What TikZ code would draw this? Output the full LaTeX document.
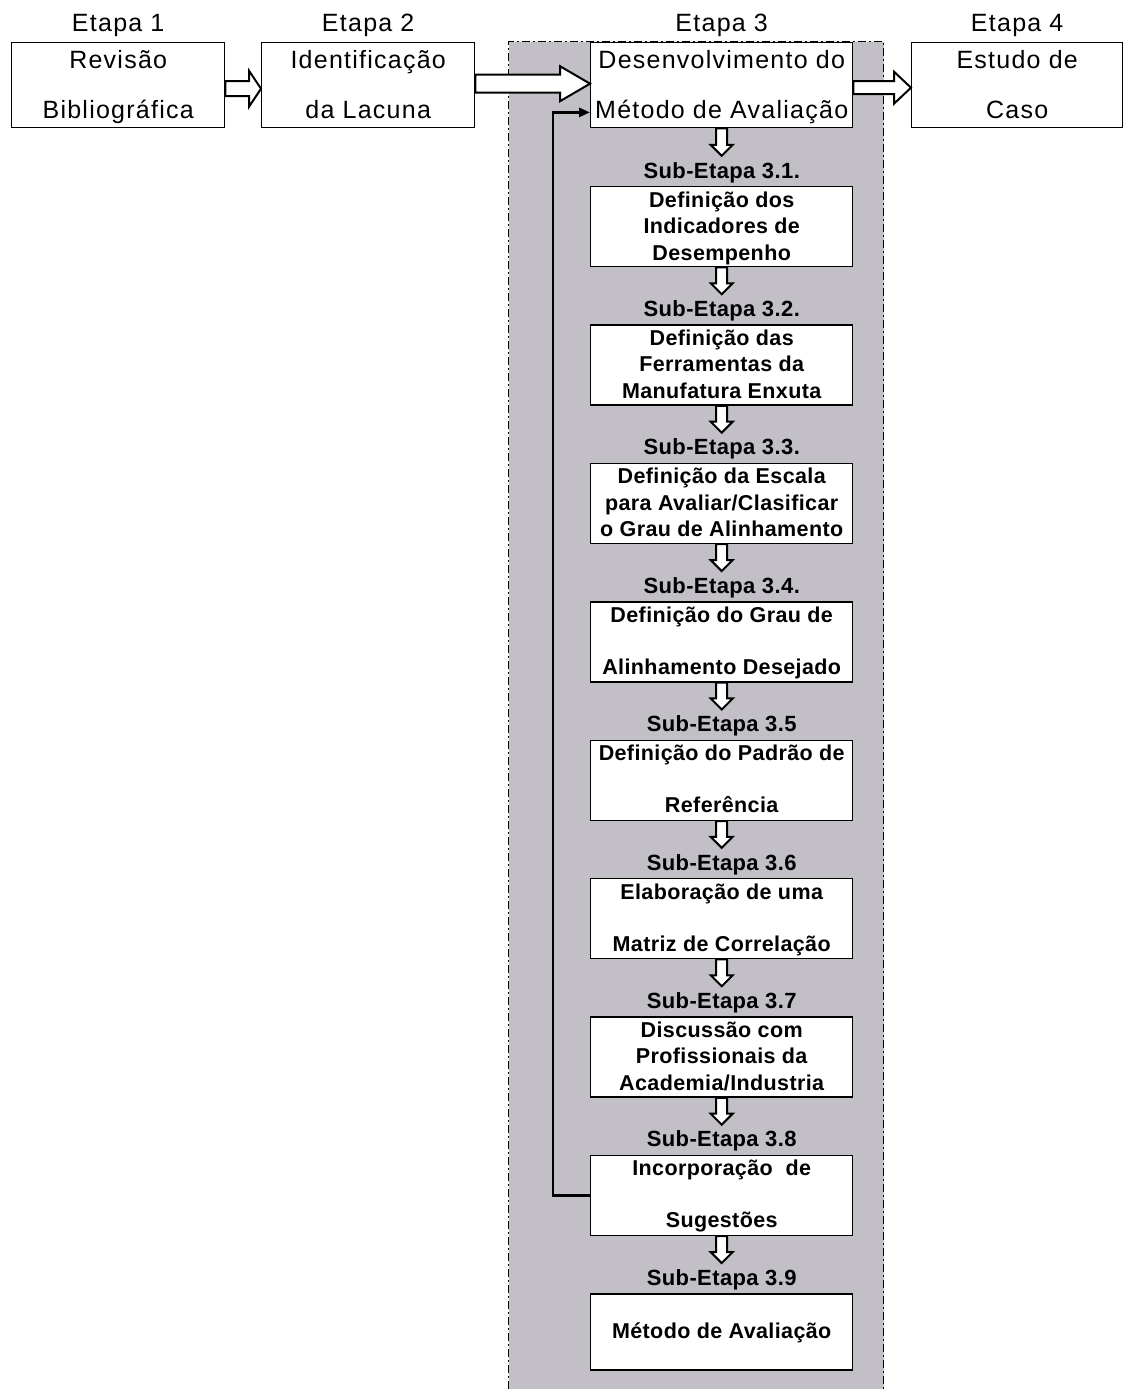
\documentclass[tikz,border=0pt]{standalone}
\usepackage{fontspec}
\setmainfont{Liberation Sans}
\newfontfamily\topfont[LetterSpace=5]{Liberation Sans}
\newfontfamily\subfont[LetterSpace=1.8]{Liberation Sans}
\usetikzlibrary{calc,arrows.meta}
\definecolor{panelgray}{RGB}{194,192,198}
\tikzset{
 box/.style={draw=black, line width=1.4pt, fill=white, anchor=north west, inner sep=0pt},
 toptext/.style={anchor=base, inner sep=0pt, font=\topfont\fontsize{25}{30}\selectfont},
 subtext/.style={anchor=base, inner sep=0pt, font=\subfont\fontsize{21.5}{26}\selectfont\bfseries},
 sublabel/.style={anchor=base, inner sep=2pt, font=\subfont\fontsize{22}{26}\selectfont\bfseries},
 blockarr/.style={draw=black, line width=2pt, fill=white, line join=miter},
 fb/.style={draw=black, line width=2.8pt, -{Triangle[length=11pt,width=9pt]}},
 panelborder/.style={draw=black, line width=1pt, dash pattern=on 8pt off 3pt on 2pt off 3pt}
}
\newcommand{\hblock}[6]{%
 \draw[blockarr] let \p1=(#1.east), \p2=(#2.west) in
 (\x1,\y1+#3+#4) -- (\x2-#6,\y1+#3+#4) -- (\x2-#6,\y1+#3+#5) -- (\x2,\y1+#3)
 -- (\x2-#6,\y1+#3-#5) -- (\x2-#6,\y1+#3-#4) -- (\x1,\y1+#3-#4) -- cycle;}
\newcommand{\vblock}[2]{%
 \draw[blockarr] let \p1=(#1.south), \p2=($(#2.north)+(0,-4)$) in
 (\x1-5.5pt,\y1) -- (\x1-5.5pt,\y2+11pt) -- (\x1-11pt,\y2+11pt) -- (\x1,\y2)
 -- (\x1+11pt,\y2+11pt) -- (\x1+5.5pt,\y2+11pt) -- (\x1+5.5pt,\y1) -- cycle;}
\begin{document}
\begin{tikzpicture}[x=1pt,y=-1pt]
\useasboundingbox (0,0) rectangle (1124,1389);
% panel
\fill[panelgray] (508.5,42) rectangle (883.5,1389);
\draw[panelborder] (508.5,1389) -- (508.5,42) -- (883.5,42) -- (883.5,1389);
% top row boxes
\node[box, minimum width=213pt, minimum height=85pt] (b1) at (11,42) {};
\node[box, minimum width=213pt, minimum height=85pt] (b2) at (261,42) {};
\node[box, minimum width=262pt, minimum height=85pt] (b3) at (590,42) {};
\node[box, minimum width=211pt, minimum height=85pt] (b4) at (911,42) {};
% sub boxes
\node[box, minimum width=262pt, minimum height=80pt] (s1) at (590,186) {};
\node[box, minimum width=262pt, minimum height=80pt] (s2) at (590,324.4) {};
\node[box, minimum width=262pt, minimum height=80pt] (s3) at (590,462.8) {};
\node[box, minimum width=262pt, minimum height=80pt] (s4) at (590,601.2) {};
\node[box, minimum width=262pt, minimum height=80pt] (s5) at (590,739.6) {};
\node[box, minimum width=262pt, minimum height=80pt] (s6) at (590,878) {};
\node[box, minimum width=262pt, minimum height=80pt] (s7) at (590,1016.4) {};
\node[box, minimum width=262pt, minimum height=80pt] (s8) at (590,1154.8) {};
\node[box, minimum width=262pt, minimum height=76pt] (s9) at (590,1293.2) {};
% stage labels
\node[toptext] (e1) at ($(b1.north)+(0,-10)$) {Etapa 1};
\node[toptext] (e2) at ($(b2.north)+(0,-10)$) {Etapa 2};
\node[toptext] (e3) at ($(b3.north)+(0,-10)$) {Etapa 3};
\node[toptext] (e4) at ($(b4.north)+(0,-10)$) {Etapa 4};
% top texts
\node[toptext] (b1a) at ($(b1.north)+(0,26)$) {Revisão};
\node[toptext] (b1b) at ($(b1.north)+(0,76)$) {Bibliográfica};
\node[toptext] (b2a) at ($(b2.north)+(0,26)$) {Identificação};
\node[toptext] (b2b) at ($(b2.north)+(0,76)$) {da Lacuna};
\node[toptext] (b3a) at ($(b3.north)+(0,26)$) {Desenvolvimento do};
\node[toptext] (b3b) at ($(b3.north)+(0,76)$) {Método de Avaliação};
\node[toptext] (b4a) at ($(b4.north)+(0,26)$) {Estudo de};
\node[toptext] (b4b) at ($(b4.north)+(0,76)$) {Caso};
% sub labels
\node[sublabel] (l1) at ($(s1.north)+(0,-8)$) {Sub-Etapa 3.1.};
\node[sublabel] (l2) at ($(s2.north)+(0,-8)$) {Sub-Etapa 3.2.};
\node[sublabel] (l3) at ($(s3.north)+(0,-8)$) {Sub-Etapa 3.3.};
\node[sublabel] (l4) at ($(s4.north)+(0,-8)$) {Sub-Etapa 3.4.};
\node[sublabel] (l5) at ($(s5.north)+(0,-8)$) {Sub-Etapa 3.5};
\node[sublabel] (l6) at ($(s6.north)+(0,-8)$) {Sub-Etapa 3.6};
\node[sublabel] (l7) at ($(s7.north)+(0,-8)$) {Sub-Etapa 3.7};
\node[sublabel] (l8) at ($(s8.north)+(0,-8)$) {Sub-Etapa 3.8};
\node[sublabel] (l9) at ($(s9.north)+(0,-8)$) {Sub-Etapa 3.9};
% sub texts
\node[subtext] (s1a) at ($(s1.north)+(0,21)$) {Definição dos};
\node[subtext] (s1b) at ($(s1.north)+(0,47.5)$) {Indicadores de};
\node[subtext] (s1c) at ($(s1.north)+(0,74)$) {Desempenho};
\node[subtext] (s2a) at ($(s2.north)+(0,21)$) {Definição das};
\node[subtext] (s2b) at ($(s2.north)+(0,47.5)$) {Ferramentas da};
\node[subtext] (s2c) at ($(s2.north)+(0,74)$) {Manufatura Enxuta};
\node[subtext] (s3a) at ($(s3.north)+(0,21)$) {Definição da Escala};
\node[subtext] (s3b) at ($(s3.north)+(0,47.5)$) {para Avaliar/Clasificar};
\node[subtext] (s3c) at ($(s3.north)+(0,74)$) {o Grau de Alinhamento};
\node[subtext] (s4a) at ($(s4.north)+(0,21)$) {Definição do Grau de};
\node[subtext] (s4b) at ($(s4.north)+(0,73)$) {Alinhamento Desejado};
\node[subtext] (s5a) at ($(s5.north)+(0,21)$) {Definição do Padrão de};
\node[subtext] (s5b) at ($(s5.north)+(0,73)$) {Referência};
\node[subtext] (s6a) at ($(s6.north)+(0,21)$) {Elaboração de uma};
\node[subtext] (s6b) at ($(s6.north)+(0,73)$) {Matriz de Correlação};
\node[subtext] (s7a) at ($(s7.north)+(0,21)$) {Discussão com};
\node[subtext] (s7b) at ($(s7.north)+(0,47.5)$) {Profissionais da};
\node[subtext] (s7c) at ($(s7.north)+(0,74)$) {Academia/Industria};
\node[subtext] (s8a) at ($(s8.north)+(0,21)$) {Incorporação\ \ de};
\node[subtext] (s8b) at ($(s8.north)+(0,73)$) {Sugestões};
\node[subtext] (s9a) at ($(s9.north)+(0,45)$) {Método de Avaliação};
% horizontal block arrows
\hblock{b1}{b2}{-3.5pt}{7.5pt}{18pt}{12pt}
\hblock{b2}{b3}{1.5pt}{9pt}{17.5pt}{30pt}
\hblock{b3}{b4}{-2.5pt}{6.5pt}{16pt}{17pt}
% vertical block arrows
\vblock{b3}{l1}
\vblock{s1}{l2}
\vblock{s2}{l3}
\vblock{s3}{l4}
\vblock{s4}{l5}
\vblock{s5}{l6}
\vblock{s6}{l7}
\vblock{s7}{l8}
\vblock{s8}{l9}
% feedback loop
\coordinate (fbend) at ($(b3.south west)+(0,-16)$);
\draw[fb] (s8.west) -- ++(-37,0) |- (fbend);
\end{tikzpicture}
\end{document}
